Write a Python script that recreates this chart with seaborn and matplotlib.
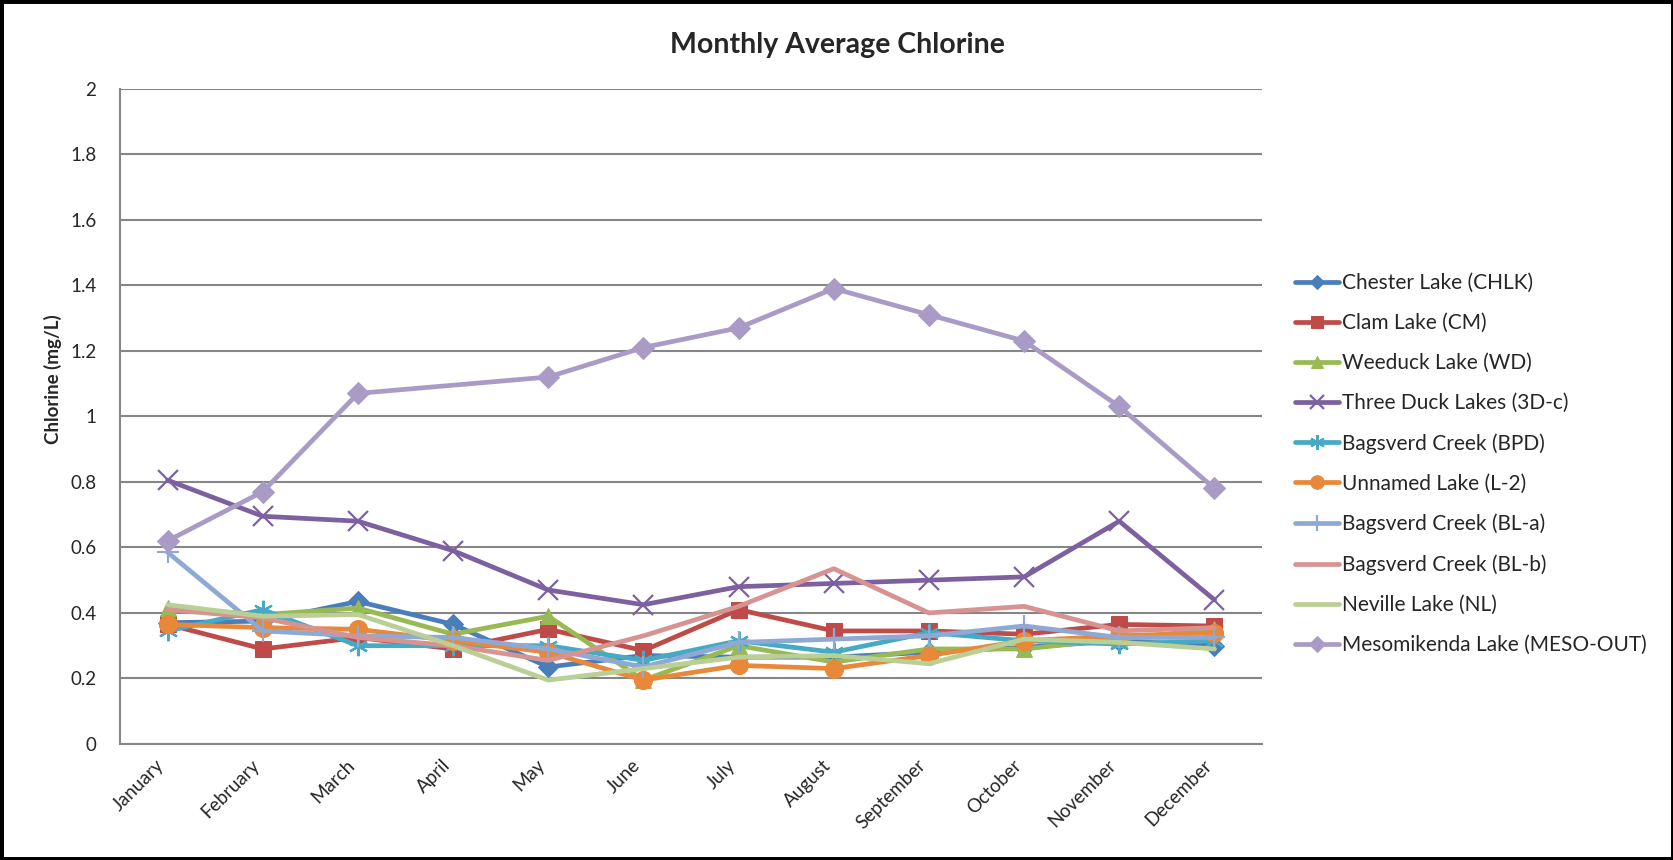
import matplotlib
matplotlib.use("Agg")
import matplotlib.pyplot as plt
from matplotlib.patches import Rectangle
import numpy as np
import pandas as pd
import seaborn as sns

## DATA ##
months = ["January", "February", "March", "April", "May", "June", "July",
          "August", "September", "October", "November", "December"]

chester = [0.37, 0.375, 0.435, 0.365, 0.235, 0.27, 0.265, 0.265, 0.28, 0.295, 0.315, 0.30]
clam = [0.365, 0.29, 0.325, 0.29, 0.35, 0.285, 0.41, 0.345, 0.345, 0.335, 0.365, 0.36]
weeduck = [0.415, 0.395, 0.415, 0.335, 0.39, 0.195, 0.30, 0.25, 0.29, 0.29, 0.32, 0.35]
three_duck = [0.805, 0.695, 0.68, 0.59, 0.47, 0.425, 0.48, 0.49, 0.50, 0.51, 0.68, 0.44]
bagsverd_bpd = [0.345, 0.41, 0.30, 0.30, 0.30, 0.255, 0.315, 0.28, 0.34, 0.315, 0.305, 0.315]
unnamed = [0.365, 0.355, 0.35, 0.315, 0.28, 0.195, 0.24, 0.23, 0.27, 0.315, 0.33, 0.34]
bagsverd_bla = [0.585, 0.345, 0.33, 0.325, 0.29, 0.235, 0.31, 0.32, 0.33, 0.36, 0.325, 0.325]
bagsverd_blb = [0.41, 0.385, 0.325, 0.30, 0.255, 0.33, 0.42, 0.535, 0.40, 0.42, 0.345, 0.355]
neville = [0.425, 0.39, 0.395, 0.30, 0.195, 0.23, 0.265, 0.27, 0.245, 0.32, 0.31, 0.29]
meso = [0.62, 0.77, 1.07, np.nan, 1.12, 1.21, 1.27, 1.39, 1.31, 1.23, 1.03, 0.78]

series_names = ["Chester Lake (CHLK)", "Clam Lake (CM)", "Weeduck Lake (WD)",
                "Three Duck Lakes (3D-c)", "Bagsverd Creek (BPD)", "Unnamed Lake (L-2)",
                "Bagsverd Creek (BL-a)", "Bagsverd Creek (BL-b)", "Neville Lake (NL)",
                "Mesomikenda Lake (MESO-OUT)"]
series_values = [chester, clam, weeduck, three_duck, bagsverd_bpd, unnamed,
                 bagsverd_bla, bagsverd_blb, neville, meso]
colors = ["#4A7EBB", "#BE4B48", "#98B954", "#7D60A0", "#46AAC5", "#E8883A",
          "#8EA9D3", "#D69391", "#B9CF95", "#A99BC6"]
markers = ["D", "s", "^", "x", (6, 2, 0), "o", "+", None, None, "D"]
msizes = [10, 12, 12, 14, 14, 13, 16, 0, 0, 11]

sns.set_style("white")
plt.rcParams["font.family"] = ["Lato", "DejaVu Sans"]

fig = plt.figure(figsize=(16.74, 8.6), dpi=100)
ax = fig.add_axes([0.0717, 0.1349, 0.6822, 0.7620])

x = np.arange(len(months))
for name, vals, col, mk, ms in zip(series_names, series_values, colors, markers, msizes):
    df = pd.DataFrame({"month": x, "value": vals}).dropna()  # MESO has no April value, line joins over it
    kw = dict(color=col, linewidth=3.4, label=name, ax=ax, estimator=None, sort=False)
    if mk is not None:
        kw.update(marker=mk, markersize=ms, markeredgecolor=col, markerfacecolor=col)
        if mk in ("x", "+", (6, 2, 0)):
            kw.update(markeredgewidth=1.6)
    sns.lineplot(data=df, x="month", y="value", **kw)

ax.set_xlim(-0.5, 11.5)
ax.set_ylim(0, 2)
ax.set_yticks(np.arange(0, 2.01, 0.2))
ax.set_yticklabels(["0", "0.2", "0.4", "0.6", "0.8", "1", "1.2", "1.4", "1.6", "1.8", "2"])
ax.yaxis.grid(True, color="#868686", linewidth=1.5)
ax.set_axisbelow(True)

# month labels at centres, tick marks on the boundaries
ax.set_xticks(x)
ax.set_xticklabels(months, rotation=45, ha="right", va="top")
ax.set_xticks(np.arange(-0.5, 12, 1), minor=True)
ax.tick_params(axis="x", which="major", length=0, pad=9, labelsize=13.5)
ax.tick_params(axis="x", which="minor", length=7, width=1.5, color="#868686", direction="out")
ax.tick_params(axis="y", length=7, width=1.5, color="#868686", direction="out", labelsize=13.5, pad=10)

for s in ["top", "right"]:
    ax.spines[s].set_visible(False)
for s in ["left", "bottom"]:
    ax.spines[s].set_color("#868686")
    ax.spines[s].set_linewidth(1.5)

ax.set_xlabel("")
ax.set_ylabel("Chlorine (mg/L)", fontsize=13.5, fontweight="bold")
ax.yaxis.set_label_coords(-0.051, 0.557)
fig.text(0.5, 0.948, "Monthly Average Chlorine", ha="center", va="center",
         fontsize=20.5, fontweight="bold")

if ax.get_legend():
    ax.get_legend().remove()
handles, labels = ax.get_legend_handles_labels()
fig.legend(handles, labels, loc="center left", bbox_to_anchor=(0.7736, 0.4605),
           frameon=False, fontsize=15, handlelength=2.1, handletextpad=0.15,
           labelspacing=0.96, borderpad=0, borderaxespad=0, markerscale=0.75)

fig.patches.append(Rectangle((0, 0), 1, 1, transform=fig.transFigure, fill=False,
                             edgecolor="black", linewidth=5))

fig.savefig("out.png", dpi=100)
